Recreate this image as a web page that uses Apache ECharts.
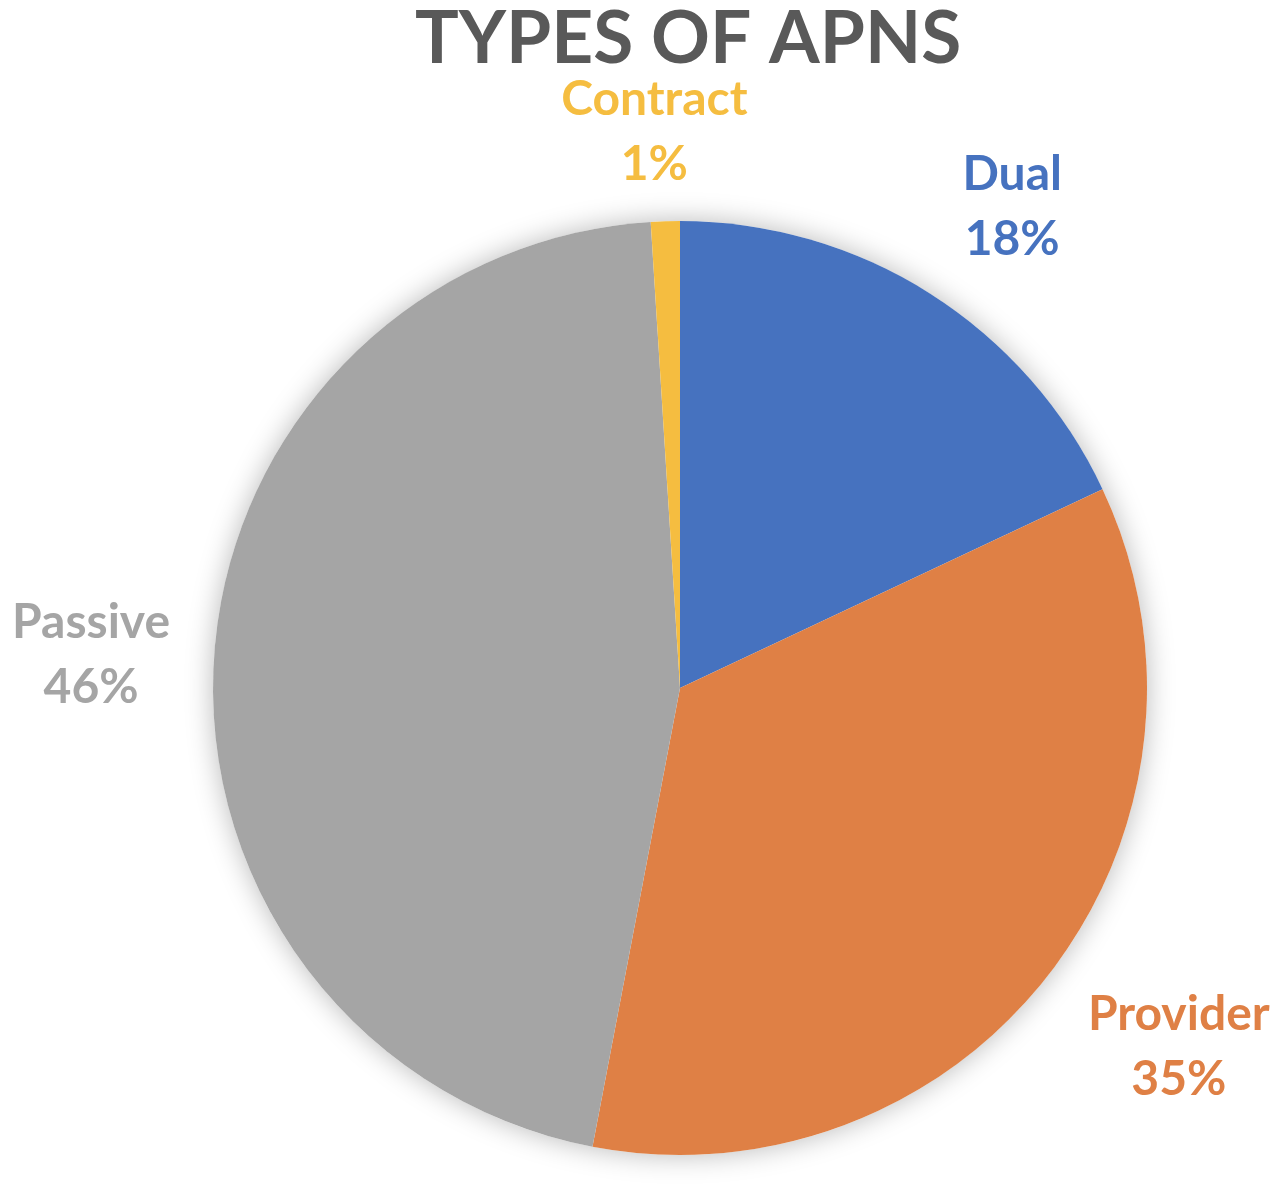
<!DOCTYPE html>
<html>
<head>
<meta charset="utf-8">
<script src="https://cdn.jsdelivr.net/npm/echarts@6/dist/echarts.min.js"></script>
<style>
html, body { margin: 0; padding: 0; background: #fff; }
#chart { width: 1280px; height: 1188px; }
</style>
</head>
<body>
<div id="chart"></div>
<script>
var categories = ['Dual', 'Provider', 'Passive', 'Contract'];
var shares = [18, 35, 46, 1];
var colors = ['#4672BF', '#DF8045', '#A5A5A5', '#F5BD40'];
// per label offsets (label line lengths, line itself hidden)
var labelLen = [103, 119, 58, 89];
var labelLen2 = [-28, -60, -19, -90];

var dom = document.getElementById('chart');
var myChart = echarts.init(dom);

var pieData = [];
for (var i = 0; i < categories.length; i++) {
	pieData.push({
		value: shares[i],
		name: categories[i],
		itemStyle: { color: colors[i] },
		label: {
			rich: {
				n: { color: colors[i], align: 'center' },
				p: { color: colors[i], align: 'center' }
			}
		},
		labelLine: { length: labelLen[i], length2: labelLen2[i] }
	});
}

var option = {
	backgroundColor: '#ffffff',
	title: {
		text: 'TYPES OF APNS',
		left: 410,
		top: -2,
		textStyle: {
			fontFamily: 'Lato',
			fontWeight: 'bold',
			fontSize: 73,
			color: '#595959'
		}
	},
	series: [
		{
			// shadow disc behind the pie
			type: 'pie',
			silent: true,
			center: [680, 688],
			radius: 467,
			label: { show: false },
			labelLine: { show: false },
			itemStyle: {
				color: '#ffffff',
				shadowBlur: 28,
				shadowColor: 'rgba(0, 0, 0, 0.28)'
			},
			data: [{ value: 1, name: '' }]
		},
		{
			name: 'APNs',
			type: 'pie',
			center: [680, 688],
			radius: 467,
			startAngle: 90,
			avoidLabelOverlap: false,
			itemStyle: { borderWidth: 0 },
			label: {
				show: true,
				position: 'outside',
				formatter: '{n|{b}}\n{p|{d}%}',
				fontFamily: 'Lato',
				fontWeight: 'bold',
				fontSize: 48,
				lineHeight: 65,
				rich: {
					n: { fontFamily: 'Lato', fontWeight: 'bold', fontSize: 48, lineHeight: 65 },
					p: { fontFamily: 'Lato', fontWeight: 'bold', fontSize: 48, lineHeight: 65 }
				}
			},
			labelLine: { show: false },
			emphasis: { scale: false },
			data: pieData
		}
	]
};

if (option && typeof option === "object") {
	myChart.setOption(option, true);
}
</script>
</body>
</html>
